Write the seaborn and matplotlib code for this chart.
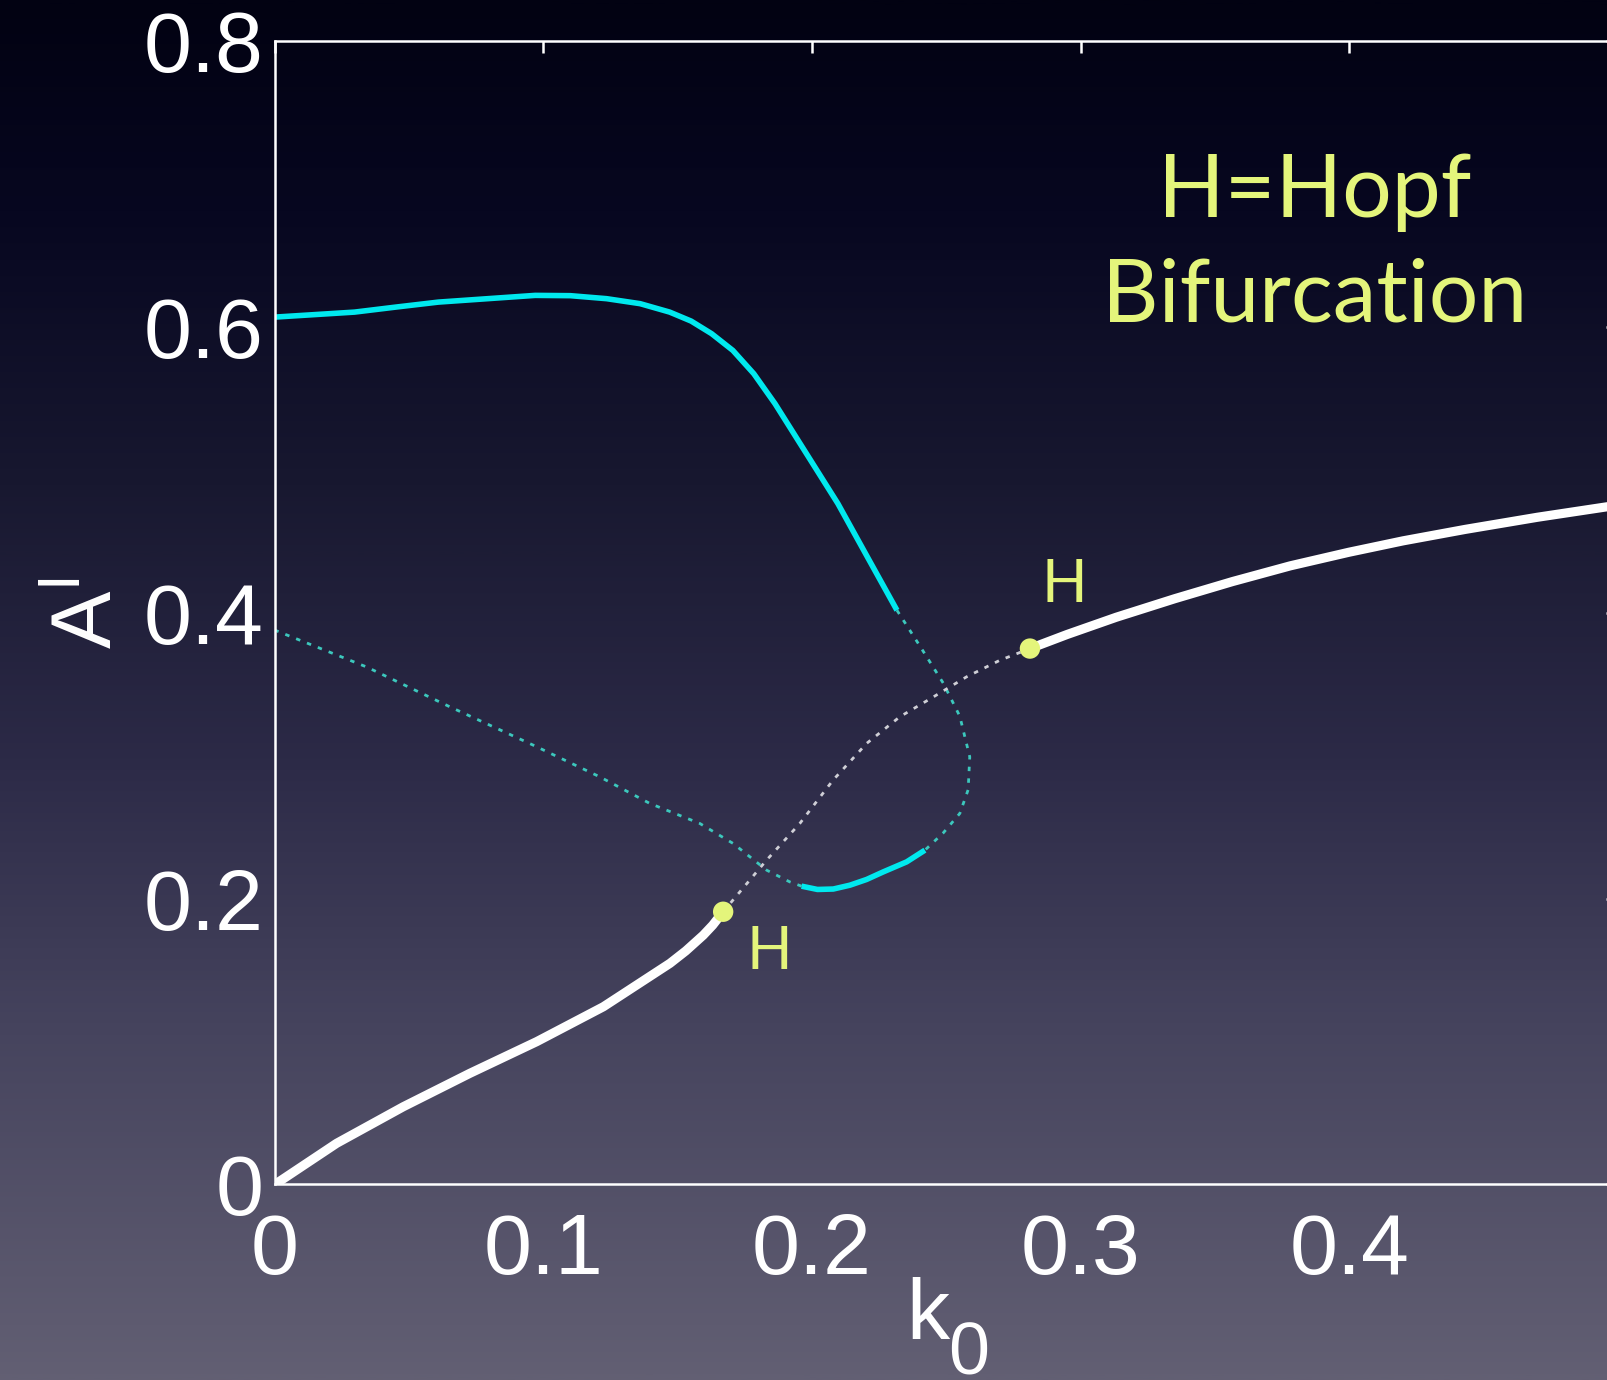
import numpy as np
import matplotlib
matplotlib.use("Agg")
import matplotlib.pyplot as plt
from matplotlib.colors import LinearSegmentedColormap
import seaborn as sns

# ---------------- data ----------------
# lower stable branch (white, solid)
k_low_stable = [0.0, 0.0230, 0.0478, 0.0726, 0.0975, 0.1223, 0.1471, 0.1530, 0.1595, 0.1630, 0.1669]
A_low_stable = [0.0, 0.0288, 0.0544, 0.0778, 0.1000, 0.1244, 0.1548, 0.1635, 0.1745, 0.1815, 0.1909]

# unstable steady-state branch between the two Hopf points (white, dotted)
k_mid_unstable = [0.1669, 0.1830, 0.1954, 0.2078, 0.2203, 0.2327, 0.2451, 0.2575, 0.2699, 0.2811]
A_mid_unstable = [0.1909, 0.2269, 0.2526, 0.2830, 0.3087, 0.3274, 0.3412, 0.3553, 0.3669, 0.3751]

# upper stable branch (white, solid)
k_up_stable = [0.2811, 0.2950, 0.3132, 0.3350, 0.3565, 0.3780, 0.3998, 0.4200, 0.4431, 0.4700, 0.5000]
A_up_stable = [0.3751, 0.3850, 0.3970, 0.4100, 0.4220, 0.4330, 0.4425, 0.4505, 0.4585, 0.4670, 0.4755]

# periodic orbit amplitude, stable max (cyan, solid)
k_po_max = [0.0, 0.0297, 0.0450, 0.0609, 0.0969, 0.1100, 0.1235, 0.1360, 0.1470, 0.1550,
            0.1626, 0.1705, 0.1783, 0.1862, 0.1940, 0.2018, 0.2096, 0.2206, 0.2316]
A_po_max = [0.6071, 0.6106, 0.6141, 0.6176, 0.6223, 0.6221, 0.6200, 0.6165, 0.6106, 0.6043,
            0.5955, 0.5838, 0.5675, 0.5465, 0.5232, 0.4999, 0.4766, 0.4392, 0.4019]

# periodic orbit, unstable fold part (cyan, dotted)
k_po_fold = [0.2316, 0.2402, 0.2488, 0.2550, 0.2587, 0.2581, 0.2550, 0.2488, 0.2420]
A_po_fold = [0.4019, 0.3767, 0.3510, 0.3277, 0.2993, 0.2763, 0.2597, 0.2460, 0.2340]

# periodic orbit, stable min part (cyan, solid)
k_po_min = [0.2420, 0.2352, 0.2265, 0.2203, 0.2141, 0.2079, 0.2020, 0.1961]
A_po_min = [0.2340, 0.2258, 0.2188, 0.2135, 0.2095, 0.2068, 0.2065, 0.2088]

# periodic orbit, unstable min part (cyan, dotted)
k_po_min_u = [0.1961, 0.1917, 0.1831, 0.1706, 0.1582, 0.1396, 0.1210, 0.0962, 0.0652, 0.0342, 0.0]
A_po_min_u = [0.2088, 0.2118, 0.2200, 0.2387, 0.2527, 0.2667, 0.2853, 0.3075, 0.3343, 0.3622, 0.3880]

# Hopf points
k_hopf = [0.1669, 0.2811]
A_hopf = [0.1909, 0.3751]
hopf_labels = ["H", "H"]

x_ticks = [0.0, 0.1, 0.2, 0.3, 0.4]
x_tick_labels = ["0", "0.1", "0.2", "0.3", "0.4"]
y_ticks = [0.0, 0.2, 0.4, 0.6, 0.8]
y_tick_labels = ["0", "0.2", "0.4", "0.6", "0.8"]

legend_text = "H=Hopf\nBifurcation"
x_label = "k"
x_label_sub = "0"
y_label = r"$\mathrm{A^I}$"

# ---------------- style ----------------
sns.set_theme(style="white")
plt.rcParams["font.family"] = ["Liberation Sans", "DejaVu Sans"]
plt.rcParams["mathtext.fontset"] = "custom"
plt.rcParams["mathtext.rm"] = "Liberation Sans"
plt.rcParams["mathtext.it"] = "Liberation Sans"

WHITE = "#ffffff"
CYAN = "#00e9ee"
CYAN_DOT = "#3cc8bd"
WHITE_DOT = "#cfcfd6"
YELLOW = "#e4f57b"

fig = plt.figure(figsize=(16.08, 13.8), dpi=100)

# background gradient
bg = fig.add_axes([0, 0, 1, 1], zorder=0)
grad = np.linspace(0, 1, 600).reshape(-1, 1)
cmap = LinearSegmentedColormap.from_list(
    "bg", [(0.0, "#020212"), (0.15, "#070720"), (0.35, "#181830"),
           (0.55, "#2c2a47"), (0.75, "#46445e"), (1.0, "#625f73")])
bg.imshow(grad, aspect="auto", cmap=cmap, extent=[0, 1, 0, 1], origin="upper")
bg.set_axis_off()

ax = fig.add_axes([0.1709, 0.14167, 0.8353, 0.82826], zorder=1)
ax.set_facecolor("none")

dot_style = (0, (1.6, 2.6))
common = dict(sort=False, estimator=None, ax=ax)

sns.lineplot(x=k_po_min_u, y=A_po_min_u, color=CYAN_DOT, lw=2.0,
             linestyle=dot_style, **common)
sns.lineplot(x=k_po_fold, y=A_po_fold, color=CYAN_DOT, lw=2.0,
             linestyle=dot_style, **common)
sns.lineplot(x=k_mid_unstable, y=A_mid_unstable, color=WHITE_DOT, lw=2.0,
             linestyle=dot_style, **common)
sns.lineplot(x=k_po_max, y=A_po_max, color=CYAN, lw=4.0,
             solid_capstyle="butt", solid_joinstyle="round", **common)
sns.lineplot(x=k_po_min, y=A_po_min, color=CYAN, lw=4.0,
             solid_capstyle="butt", solid_joinstyle="round", **common)
sns.lineplot(x=k_low_stable, y=A_low_stable, color=WHITE, lw=6.6,
             solid_capstyle="round", solid_joinstyle="round", **common)
sns.lineplot(x=k_up_stable, y=A_up_stable, color=WHITE, lw=6.6,
             solid_capstyle="round", solid_joinstyle="round", **common)
sns.scatterplot(x=k_hopf, y=A_hopf, ax=ax, s=215, color=YELLOW, edgecolor="none",
                zorder=5)

offsets = [(33, -29), (25, 46)]
for kx, ay, lab, off in zip(k_hopf, A_hopf, hopf_labels, offsets):
    ax.annotate(lab, (kx, ay), xytext=off, textcoords="offset points",
                ha="center", va="center", color=YELLOW, fontsize=43,
                family=["Lato", "DejaVu Sans"])

ax.text(0.7744, 0.822, legend_text, transform=ax.transAxes, ha="center", va="center",
        color=YELLOW, fontsize=63, family=["Lato", "DejaVu Sans"],
        linespacing=1.40)

ax.set_xlim(0, 0.5)
ax.set_ylim(0, 0.8)
ax.set_xticks(x_ticks, labels=x_tick_labels)
ax.set_yticks(y_ticks, labels=y_tick_labels)
ax.tick_params(direction="in", length=8.6, width=1.8, colors="white",
               top=True, right=True, labelsize=62, pad=8)
ax.tick_params(axis="x", pad=20)
for s in ax.spines.values():
    s.set_color("white")
    s.set_linewidth(1.8)
    s.set_visible(True)

ax.set_xlabel(x_label, color="white", fontsize=62, labelpad=-11)
ax.xaxis.label.set_x(0.4863)
ax.set_ylabel(y_label, color="white", fontsize=62, labelpad=10)
ax.annotate(x_label_sub, xy=(1.0, 0.0), xycoords=ax.xaxis.label,
            xytext=(-1, 26), textcoords="offset points", ha="left", va="top",
            color="white", fontsize=53)

fig.savefig("out.png", dpi=100)
